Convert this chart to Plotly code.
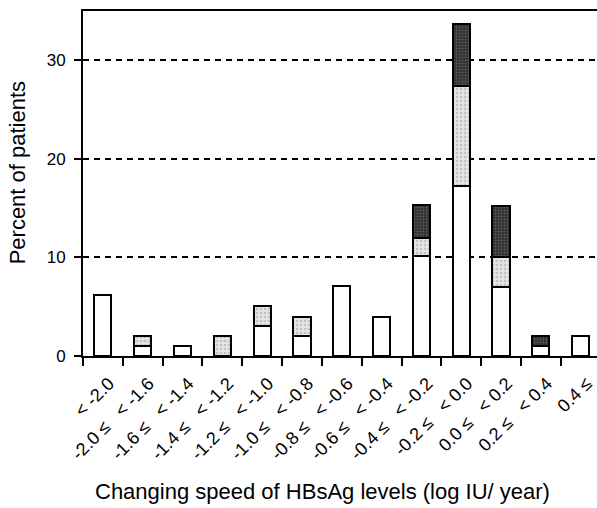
import plotly.graph_objects as go

NB = "\u00a0"

# Bins of the yearly change in HBsAg level (log IU/year)
categories = [
    "< -2.0",
    f"-2.0 ≤{NB*3}< -1.6",
    f"-1.6 ≤{NB*3}< -1.4",
    f"-1.4 ≤{NB*3}< -1.2",
    f"-1.2 ≤{NB*3}< -1.0",
    f"-1.0 ≤{NB*3}< -0.8",
    f"-0.8 ≤{NB*3}< -0.6",
    f"-0.6 ≤{NB*3}< -0.4",
    f"-0.4 ≤{NB*3}< -0.2",
    f"-0.2 ≤{NB*3}< 0.0",
    f"0.0 ≤{NB*3}< 0.2",
    f"0.2 ≤{NB*3}< 0.4",
    "0.4 ≤",
]

# Percent of patients in each stacked group (None = segment absent)
white_pct = [6.2, 1.0, 1.0, None, 3.0, 2.0, 7.1, 4.0, 10.1, 17.2, 7.0, 1.0, 2.0]
light_pct = [None, 1.0, None, 2.0, 2.1, 2.0, None, None, 1.9, 10.2, 3.0, None, None]
dark_pct = [None, None, None, None, None, None, None, None, 3.3, 6.3, 5.2, 1.0, None]

FONT = "Liberation Sans, Arial, Helvetica, sans-serif"
BAR_W = 0.43
outline = dict(color="black", width=2)

fig = go.Figure()
fig.add_trace(go.Bar(
    x=categories, y=white_pct, width=BAR_W,
    marker=dict(color="white", line=outline),
    showlegend=False,
))
fig.add_trace(go.Bar(
    x=categories, y=light_pct, width=BAR_W,
    marker=dict(
        color="#e2e2e2", line=outline,
        pattern=dict(shape=".", fgcolor="#a0a0a0", bgcolor="#e4e4e4",
                     size=4, solidity=0.35),
    ),
    showlegend=False,
))
fig.add_trace(go.Bar(
    x=categories, y=dark_pct, width=BAR_W,
    marker=dict(
        color="#383838", line=outline,
        pattern=dict(shape=".", fgcolor="#8a8a8a", bgcolor="#303030",
                     size=3, solidity=0.3),
    ),
    showlegend=False,
))

fig.update_layout(
    barmode="stack",
    width=597, height=508,
    margin=dict(l=83, r=0, t=11, b=152),
    plot_bgcolor="white", paper_bgcolor="white",
    font=dict(family=FONT, color="black"),
    xaxis=dict(
        type="category",
        range=[-0.5, 12.41],
        tickson="boundaries",
        ticks="outside", ticklen=8, tickwidth=2, tickcolor="black",
        tickangle=-45,
        tickfont=dict(size=18, family=FONT),
        ticklabelstandoff=8, ticklabelshift=6,
        showline=True, linecolor="black", linewidth=2, mirror=True,
        showgrid=False,
    ),
    yaxis=dict(
        range=[0, 35],
        tickvals=[0, 10, 20, 30],
        ticks="outside", ticklen=7, tickwidth=2, tickcolor="black",
        tickfont=dict(size=17, family=FONT),
        ticklabelstandoff=5,
        showline=True, linecolor="black", linewidth=2,
        showgrid=True, gridcolor="black", gridwidth=1.5, griddash="6px,5px",
        zeroline=False,
    ),
    annotations=[
        dict(text="Changing speed of HBsAg levels (log IU/ year)",
             xref="paper", yref="paper", x=0.465, y=-0.394,
             xanchor="center", yanchor="middle", showarrow=False,
             font=dict(size=22, family=FONT)),
        dict(text="Percent of patients",
             xref="paper", yref="paper", x=-0.128, y=0.53,
             xanchor="center", yanchor="middle", showarrow=False,
             textangle=-90, font=dict(size=22, family=FONT)),
    ],
)

fig.write_html("out.html")
